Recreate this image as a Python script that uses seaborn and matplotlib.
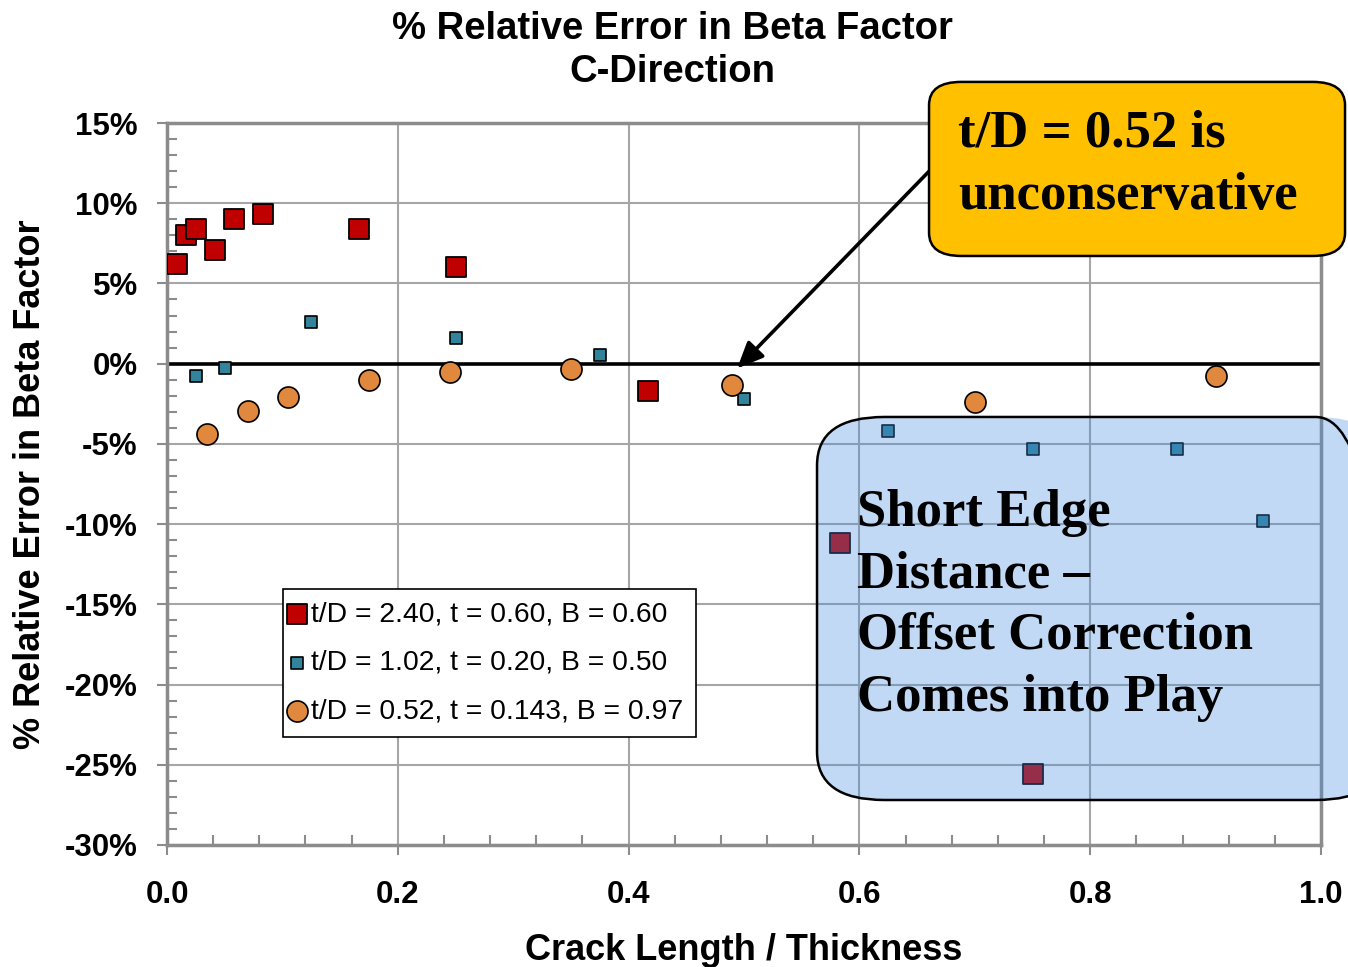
import matplotlib

matplotlib.use("Agg")
import matplotlib.pyplot as plt  # noqa: E402
import seaborn as sns  # noqa: E402
from matplotlib.patches import FancyBboxPatch  # noqa: E402
from matplotlib.ticker import MultipleLocator, FuncFormatter  # noqa: E402

# --- data (percent relative error vs crack length / thickness) ---
red_label = "t/D = 2.40, t = 0.60, B = 0.60"
red_x = [0.0083, 0.0167, 0.025, 0.0417, 0.0583, 0.0833, 0.1667, 0.25, 0.4167, 0.5833, 0.75]
red_y = [6.2, 8.0, 8.4, 7.1, 9.0, 9.3, 8.4, 6.0, -1.7, -11.2, -25.6]

teal_label = "t/D = 1.02, t = 0.20, B = 0.50"
teal_x = [0.025, 0.05, 0.125, 0.25, 0.375, 0.5, 0.625, 0.75, 0.875, 0.95]
teal_y = [-0.75, -0.3, 2.6, 1.6, 0.55, -2.2, -4.2, -5.3, -5.3, -9.8]

orange_label = "t/D = 0.52, t = 0.143, B = 0.97"
orange_x = [0.035, 0.07, 0.105, 0.175, 0.245, 0.35, 0.49, 0.70, 0.909]
orange_y = [-4.4, -2.95, -2.1, -1.0, -0.5, -0.35, -1.3, -2.4, -0.75]

x_ticks = [0.0, 0.2, 0.4, 0.6, 0.8, 1.0]
y_ticks = [15, 10, 5, 0, -5, -10, -15, -20, -25, -30]

sns.set_style("white")
plt.rcParams["font.family"] = ["Liberation Sans", "DejaVu Sans"]
plt.rcParams["text.color"] = "black"
plt.rcParams["axes.labelcolor"] = "black"

fig = plt.figure(figsize=(13.48, 9.67), dpi=100)
ax = fig.add_axes([0.1239, 0.1262, 0.8561, 0.7466])

grid_c = "#a6a6a6"
spine_c = "#8c8c8c"

ax.set_xlim(0, 1.0)
ax.set_ylim(-30, 15)
ax.set_xticks(x_ticks)
ax.set_yticks(y_ticks)
ax.xaxis.set_minor_locator(MultipleLocator(0.04))
ax.yaxis.set_minor_locator(MultipleLocator(1))
ax.grid(True, which="major", color=grid_c, lw=1.5, zorder=0)
ax.set_axisbelow(True)
for s in ax.spines.values():
    s.set_color(spine_c)
    s.set_linewidth(2.5)

ax.tick_params(which="major", direction="out", length=7, width=1.5, color=spine_c,
               labelsize=22.5, labelcolor="black")
ax.tick_params(axis="x", which="major", pad=18)
ax.tick_params(axis="y", which="major", pad=14)
ax.tick_params(which="minor", direction="in", length=7, width=1.5, color=spine_c)
ax.tick_params(axis="x", which="both", bottom=True)
ax.tick_params(axis="y", which="both", left=True)
ax.xaxis.set_major_formatter(FuncFormatter(lambda v, p: f"{v:.1f}"))
ax.yaxis.set_major_formatter(FuncFormatter(lambda v, p: f"{v:.0f}%"))
for lab in ax.get_xticklabels() + ax.get_yticklabels():
    lab.set_fontweight("bold")

ax.axhline(0, color="black", lw=2.6, zorder=2)

sns.scatterplot(x=red_x, y=red_y, marker="s", s=200, color="#c00000",
                edgecolor="black", linewidth=1.3, label=red_label, ax=ax, zorder=3)
sns.scatterplot(x=teal_x, y=teal_y, marker="s", s=85, color="#31849b",
                edgecolor="black", linewidth=1.2, label=teal_label, ax=ax, zorder=3)
sns.scatterplot(x=orange_x, y=orange_y, marker="o", s=230, color="#e0883e",
                edgecolor="black", linewidth=1.2, label=orange_label, ax=ax, zorder=3)

leg = ax.legend(loc="upper left", bbox_to_anchor=(0.1005, 0.355), borderaxespad=0,
                fontsize=20.3, frameon=True, fancybox=False, handletextpad=0.45,
                handlelength=0.1, labelspacing=0.8, borderpad=0.45)
leg.get_frame().set_edgecolor("black")
leg.get_frame().set_linewidth(1.2)
leg.get_frame().set_alpha(1)

ax.set_xlabel("Crack Length / Thickness", fontsize=26, fontweight="bold", labelpad=17)
ax.set_ylabel("% Relative Error in Beta Factor", fontsize=26, fontweight="bold",
              labelpad=12)
fig.text(0.4985, 0.948, "% Relative Error in Beta Factor\nC-Direction", fontsize=27.5,
         fontweight="bold", ha="center", va="center", linespacing=1.24)

# arrow pointing at the t/D = 0.52 points
ax.annotate("", xy=(0.494, -0.3), xycoords="data",
            xytext=(0.690, 0.824), textcoords="figure fraction",
            arrowprops=dict(arrowstyle="-|>,head_length=1.6,head_width=0.7",
                            color="black", lw=2.6, shrinkA=0, shrinkB=0),
            zorder=4)

# orange callout
orange_box = FancyBboxPatch((0.6892, 0.7353), 0.3086, 0.18,
                            boxstyle="round,pad=0.0,rounding_size=0.024",
                            transform=fig.transFigure, facecolor="#ffc000",
                            edgecolor="black", lw=1.8, zorder=5)
fig.patches.append(orange_box)
fig.text(0.7107, 0.8294, "t/D = 0.52 is\nunconservative", fontsize=38, fontweight="bold",
         family=["Liberation Serif", "DejaVu Serif"], va="center", ha="left",
         linespacing=1.4, zorder=6)

# semi-transparent blue callout over the data
blue_kw = dict(boxstyle="round,pad=0.0,rounding_size=0.05", transform=fig.transFigure)
blue_box = FancyBboxPatch((0.6061, 0.1727), 0.42, 0.3961, facecolor=(0.27, 0.55, 0.87),
                          alpha=0.33, edgecolor="none", zorder=5, **blue_kw)
blue_edge = FancyBboxPatch((0.6061, 0.1727), 0.42, 0.3961, facecolor="none",
                           edgecolor="black", lw=1.8, zorder=5, **blue_kw)
fig.patches.append(blue_box)
fig.patches.append(blue_edge)
fig.text(0.6355, 0.3743, "Short Edge\nDistance \u2013\nOffset Correction\nComes into Play",
         fontsize=38, fontweight="bold", family=["Liberation Serif", "DejaVu Serif"],
         va="center", ha="left", linespacing=1.37, zorder=6)

fig.savefig("out.png", dpi=100)
